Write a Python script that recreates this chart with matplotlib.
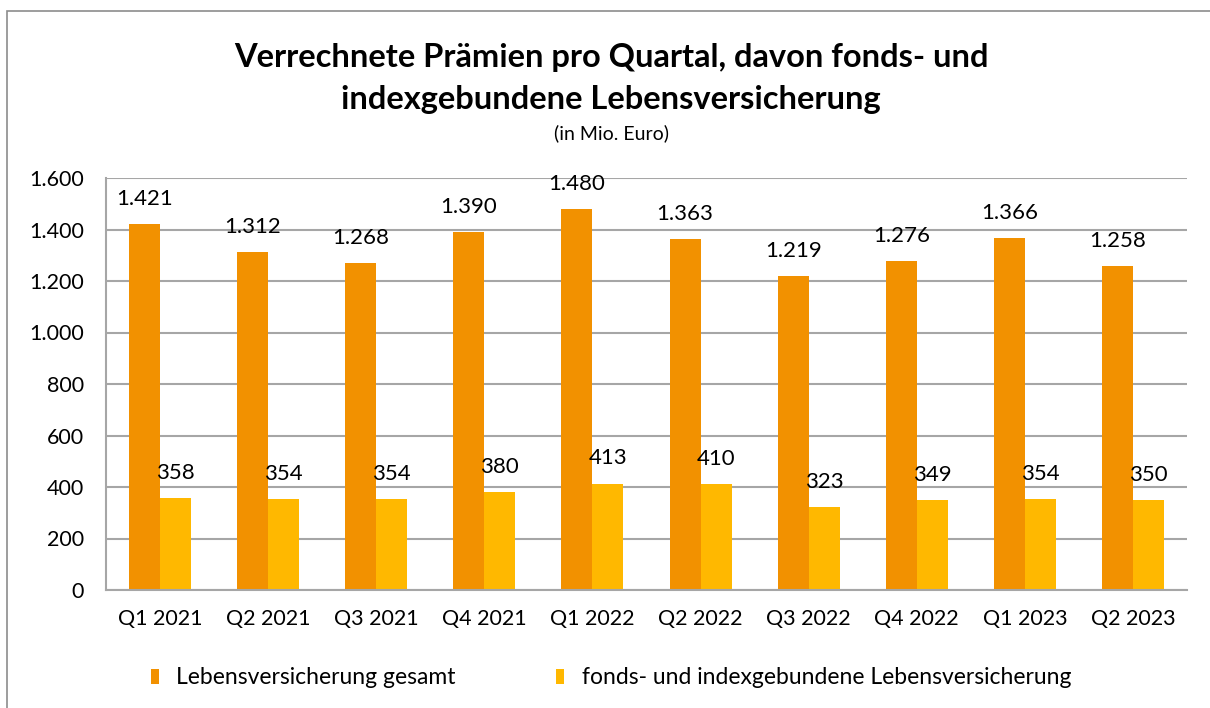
import matplotlib.pyplot as plt
import numpy as np
from matplotlib.patches import Rectangle
from matplotlib.ticker import FuncFormatter

quarters = ["Q1 2021", "Q2 2021", "Q3 2021", "Q4 2021", "Q1 2022",
            "Q2 2022", "Q3 2022", "Q4 2022", "Q1 2023", "Q2 2023"]
gesamt = [1421, 1312, 1268, 1390, 1480, 1363, 1219, 1276, 1366, 1258]
fonds = [358, 354, 354, 380, 413, 410, 323, 349, 354, 350]
series_labels = ["Lebensversicherung gesamt", "fonds- und indexgebundene Lebensversicherung"]

ORANGE = "#F29100"
YELLOW = "#FFB800"
GRID = "#A6A6A6"


def de_num(v):
    return f"{int(v):,}".replace(",", ".")


plt.rcParams.update({"font.family": ["Lato", "DejaVu Sans"], "font.size": 15})

fig = plt.figure(figsize=(12.1, 7.08), dpi=100)
fig.patches.append(Rectangle((7 / 1210, -0.1), 1.2, 1 - 11 / 708 + 0.1, transform=fig.transFigure,
                             fill=False, edgecolor="#8C8C8C", linewidth=1.2))
ax = fig.add_axes([106 / 1210, 1 - 590 / 708, (1187 - 106) / 1210, (590 - 178) / 708])

x = np.arange(len(quarters))
w = 0.287
b1 = ax.bar(x - w / 2, gesamt, w, color=ORANGE, label=series_labels[0], zorder=2)
b2 = ax.bar(x + w / 2, fonds, w, color=YELLOW, label=series_labels[1], zorder=2)
for bars in (b1, b2):
    for rect in bars:
        ax.annotate(de_num(rect.get_height()), (rect.get_x() + rect.get_width() / 2, rect.get_height()),
                    xytext=(0, 11), textcoords="offset points", ha="center", va="bottom", fontsize=16)

ax.set_xlim(-0.5, len(quarters) - 0.5)
ax.set_ylim(0, 1600)
ax.set_yticks(np.arange(0, 1601, 200))
ax.yaxis.set_major_formatter(FuncFormatter(lambda v, p: de_num(v)))
ax.set_xticks(x, quarters)
ax.grid(axis="y", color=GRID, linewidth=1.5, zorder=0)
ax.set_axisbelow(True)
for side in ("top", "right"):
    ax.spines[side].set_visible(False)
for side in ("left", "bottom"):
    ax.spines[side].set_color(GRID)
    ax.spines[side].set_linewidth(1.5)
ax.tick_params(axis="y", length=0, pad=16, labelsize=15.5)
ax.tick_params(axis="x", length=0, pad=14, labelsize=15.5)

fig.text(0.505, 1 - 57 / 708, "Verrechnete Prämien pro Quartal, davon fonds- und",
         ha="center", va="center", fontsize=23.5, fontweight="bold")
fig.text(0.505, 1 - 100 / 708, "indexgebundene Lebensversicherung",
         ha="center", va="center", fontsize=23.5, fontweight="bold")
fig.text(0.505, 1 - 133 / 708, "(in Mio. Euro)", ha="center", va="center", fontsize=14)

fig.legend(handles=[b1, b2], loc="center", bbox_to_anchor=(0.505, 1 - 678 / 708), ncol=2, frameon=False,
           handlelength=0.35, handleheight=0.65, handletextpad=0.75, columnspacing=4.4, fontsize=16.5)

fig.savefig("out.png", dpi=100)
